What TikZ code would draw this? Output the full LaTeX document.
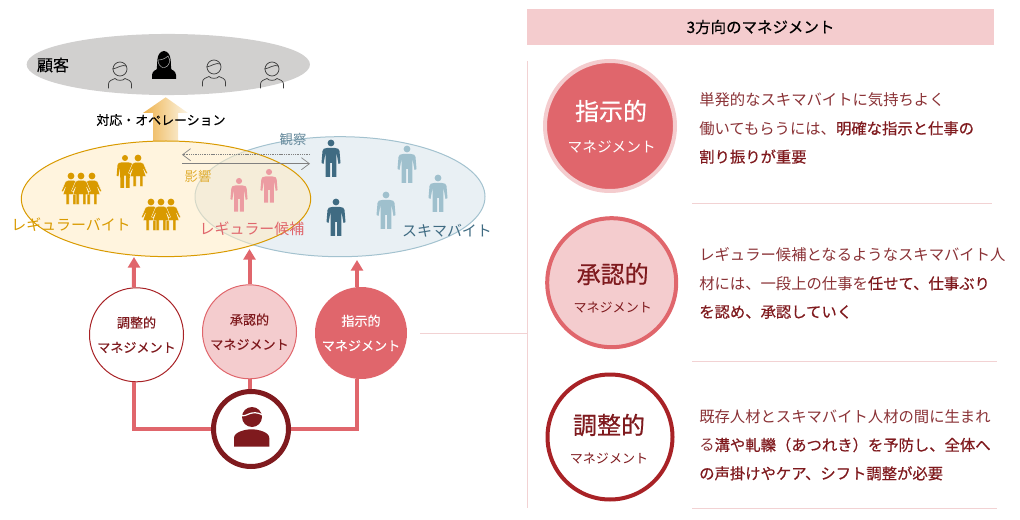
\documentclass[tikz,border=0pt]{standalone}
\usepackage{fontspec}
\setmainfont{Noto Sans CJK JP}
\newfontfamily\midweight[FakeBold=0.25]{Noto Sans CJK JP}
\newfontfamily\strongweight[FakeBold=0.5]{Noto Sans CJK JP}
\usetikzlibrary{arrows.meta,shapes.geometric}
\definecolor{palepink}{HTML}{F4CCCE}
\definecolor{rosered}{HTML}{E0666C}
\definecolor{winered}{HTML}{A82226}
\definecolor{deepred}{HTML}{7F1A1E}
\definecolor{bodyred}{HTML}{8A3236}
\definecolor{goldline}{HTML}{D99A00}
\definecolor{goldfill}{HTML}{FFEBC3}
\definecolor{goldpale}{HTML}{FFF4DE}
\definecolor{blueline}{HTML}{A3C2CF}
\definecolor{bluefill}{HTML}{E9F0F4}
\definecolor{darkblue}{HTML}{3F6B82}
\definecolor{lightblue}{HTML}{9FC0CD}
\definecolor{softpink}{HTML}{EC9CA2}
\definecolor{rulepink}{HTML}{F2D2D3}
\definecolor{crowdgray}{HTML}{D1D0CF}
\newcommand{\keytext}[1]{\textcolor{deepred}{\strongweight #1}}
\begin{document}
\begin{tikzpicture}
[x=0.75pt,y=-0.75pt,
 linkline/.style={draw=rosered,line width=3pt},
 linkarrow/.style={linkline,-{Triangle[length=8pt,width=9pt]}},
 thinrule/.style={draw=rulepink,line width=0.75pt},
 lookarrow/.style={draw=gray,line width=0.5pt,-{Straight Barb[length=6pt,width=9pt]}},
 smallway/.style={circle,minimum size=70.5pt,inner sep=0pt,align=center,font=\fontsize{9.8}{18.6}\selectfont\midweight},
 bigway/.style={circle,inner sep=0pt,line width=3pt},
 waytitle/.style={inner sep=0pt,font=\fontsize{18}{22}\selectfont\strongweight},
 waytext/.style={anchor=west,align=left,inner sep=0pt,text=bodyred,font=\fontsize{11.5}{21.3}\selectfont},
 grouptext/.style={inner sep=0pt,font=\fontsize{11.2}{14}\selectfont},
 pics/manfig/.style={code={
   \fill[#1] (0,0) circle (3.4);
   \fill[#1] (-4,5) -- (4,5) .. controls (7,5) and (8,6) .. (8.5,8) -- (9.5,20) -- (7.5,21) -- (5.5,10)
     -- (5.3,34) -- (1,34) -- (1,20) -- (-1,20) -- (-1,34) -- (-5.3,34) -- (-5.5,10) -- (-7.5,21)
     -- (-9.5,20) -- (-8.5,8) .. controls (-8,6) and (-7,5) .. (-4,5) -- cycle;
 }},
 pics/womanfig/.style={code={
   \fill[#1] (0,0) circle (3.4);
   \filldraw[fill=#1,draw=goldpale,line width=0.3pt] (-3,4.5) -- (3,4.5) -- (5.5,5.5) -- (9.5,15) -- (8,16) -- (5.5,11) -- (8,18.5) -- (4.8,18.5)
     -- (4.8,28.5) -- (2,28.5) -- (2,18.5) -- (-2,18.5) -- (-2,28.5) -- (-4.8,28.5) -- (-4.8,18.5) -- (-8,18.5)
     -- (-5.5,11) -- (-8,16) -- (-9.5,15) -- (-5.5,5.5) -- cycle;
 }},
 pics/facefig/.style={code={
   \draw[line width=0.55pt,draw=black!75] (0,0) circle (7);
   \draw[line width=0.55pt,draw=black!75] (-7.5,0) .. controls (-3,-0.5) and (2,-5) .. (6.5,-3);
   \draw[line width=0.55pt,draw=black!75] (-11.5,19.5) -- (-11.5,15) .. controls (-11.5,12) and (-8,10.5) .. (-5,9.5)
     .. controls (-3,12) and (3,12) .. (5,9.5) .. controls (8,10.5) and (11.5,12) .. (11.5,15) -- (11.5,19.5);
 }}]
\useasboundingbox (0,0) rectangle (1020,520);

%% customers on top
\node[ellipse,fill=crowdgray,minimum width=212.5pt,minimum height=45.8pt,inner sep=0pt] (crowd) at (168.3,64.5) {};
\node[inner sep=0pt,font=\fontsize{12}{14}\selectfont\midweight] (crowdlabel) at (53,65) {顧客};
\foreach \x/\y in {120/69, 214/67, 272/69}
{
  \pic at (\x,\y) {facefig};
}
\fill[black] (156.5,70) .. controls (158,66) and (155,52) .. (164,51) .. controls (173,52) and (170,66) .. (171.5,70) -- cycle;
\draw[white!70!black,line width=0.4pt] (158,60) .. controls (161,60) and (165,59) .. (168,56) .. controls (171,60) and (170,66) .. (164,68) .. controls (160,67) and (158,64) .. (158,60);
\fill[black] (152,79) -- (152,75) .. controls (152,71) and (157,69) .. (160,68) -- (168,68) .. controls (171,69) and (176,71) .. (176,75) -- (176,79) -- cycle;

%% the two groups
\node[ellipse,draw=blueline,fill=bluefill,line width=0.75pt,minimum width=217.5pt,minimum height=90pt,inner sep=0pt] (casual) at (340,196.7) {};
\shade[left color=orange!35!goldline!70!white,right color=goldline!10!white] (153,141) -- (153,113) -- (143,113) -- (165.7,97.3) -- (188,113) -- (178,113) -- (178,141) -- cycle;
\node[ellipse,draw=goldline,fill=goldfill,fill opacity=0.55,line width=0.75pt,minimum width=217pt,minimum height=86.7pt,inner sep=0pt] (regular) at (166,198.8) {};
\node[inner sep=0pt,font=\fontsize{9.7}{12}\selectfont\midweight] (action) at (161,120) {対応・オペレーション};

\pic[scale=0.88] at (125,158) {manfig=goldline};
\foreach \x/\y in {138/158, 71/176, 92/176, 81/176, 151/202, 171/202, 161/202}
{
  \pic at (\x,\y) {womanfig=goldline};
}
\foreach \x/\y in {239/181, 269/172}
{
  \pic[scale=0.9] at (\x,\y) {manfig=softpink};
}
\foreach \x/\y in {331/143, 336/202}
{
  \pic at (\x,\y) {manfig=darkblue};
}
\foreach \x/\y in {407/149, 438/178, 386/195}
{
  \pic at (\x,\y) {manfig=lightblue};
}
\node[grouptext,text=goldline] (regularlabel) at (71,225) {レギュラーバイト};
\node[grouptext,text=rosered] (candidatelabel) at (252,229) {レギュラー候補};
\node[grouptext,text=darkblue] (casuallabel) at (447,231) {スキマバイト};

\coordinate (watchR) at (310,154.7);
\coordinate (watchL) at (182,154.7);
\coordinate (sendL) at (182,163.7);
\coordinate (sendR) at (310,163.7);
\draw[lookarrow,dash pattern=on 1pt off 0.7pt] (watchR) -- (watchL);
\draw[lookarrow] (sendL) -- (sendR);
\node[inner sep=0pt,text=darkblue!80!white,font=\fontsize{10}{12}\selectfont] (watchlabel) at (293,139) {観察};
\node[inner sep=0pt,text=goldline!80!white,font=\fontsize{10}{12}\selectfont] (effectlabel) at (198,176.7) {影響};

%% the three ways and the manager
\node[smallway,draw=winered,fill=white,line width=0.75pt,text=deepred] (adjustS) at (136.5,334.8) {調整的\\マネジメント};
\node[smallway,draw=rosered,fill=palepink,line width=0.75pt,text=deepred] (approveS) at (249.5,331.8) {承認的\\マネジメント};
\node[smallway,minimum size=69pt,fill=rosered,text=white] (directS) at (361,333) {指示的\\マネジメント};
\node[circle,draw=deepred,fill=white,line width=3.75pt,minimum size=56.25pt,inner sep=0pt] (boss) at (251,429) {};
\fill[deepred] (252,417) circle (10);
\draw[white,line width=0.9pt] (241,416) .. controls (247,417) and (251,409) .. (263,415);
\fill[deepred] (234,446.7) -- (234,438) .. controls (234,432) and (245,429.3) .. (251.5,429.3) .. controls (258,429.3) and (269.3,432) .. (269.3,438) -- (269.3,446.7) -- cycle;

\draw[linkline] (boss.west) -| ([xshift=-1.9pt]adjustS.south);
\draw[linkline] (approveS.south) -- (approveS.south |- boss.north);
\draw[linkline] (boss.east) -| ([xshift=-3pt]directS.south);
\coordinate (tipA) at (134,257);
\coordinate (tipB) at (249.5,249);
\coordinate (tipC) at (357,260);
\draw[linkarrow] ([xshift=-1.9pt]adjustS.north) -- (tipA);
\draw[linkarrow] (approveS.north) -- (tipB);
\draw[linkarrow] ([xshift=-3pt]directS.north) -- (tipC);

%% right side
\node[fill=palepink,minimum width=350.25pt,minimum height=27pt,inner sep=0pt,font=\fontsize{11.6}{14}\selectfont\strongweight] (title) at (760.5,27) {3方向のマネジメント};
\coordinate (frameT) at (527,61);
\coordinate (frameB) at (527,508);
\coordinate (frameM) at (527,333);
\coordinate (frameL) at (420,333);
\draw[thinrule] (frameT) -- (frameB);
\draw[thinrule] (frameL) -- (frameM);
\foreach \ystart/\xend in {204/992, 361.5/997, 508/997}
{
  \draw[thinrule] (692,\ystart) -- (\xend,\ystart);
}

\node[bigway,draw=palepink,fill=rosered,minimum size=97.5pt] (directB) at (610,126) {};
\node[bigway,draw=rosered,fill=palepink,minimum size=96.75pt] (approveB) at (611.7,282.7) {};
\node[bigway,draw=winered,fill=white,minimum size=93.75pt] (adjustB) at (610,437) {};
\node[waytitle,text=white] (directname) at (611,111) {指示的};
\node[waytitle,text=deepred] (approvename) at (612.7,274) {承認的};
\node[waytitle,text=deepred] (adjustname) at (609,425) {調整的};
\node[inner sep=0pt,text=white,font=\fontsize{11}{14}\selectfont] (directsub) at (611.7,146.7) {マネジメント};
\node[inner sep=0pt,text=deepred,font=\fontsize{9.8}{14}\selectfont] (approvesub) at (612.7,307.7) {マネジメント};
\node[inner sep=0pt,text=deepred,font=\fontsize{9.8}{14}\selectfont] (adjustsub) at (609,459) {マネジメント};

\node[waytext] (directT) at (699,128.3) {単発的なスキマバイトに気持ちよく\\働いてもらうには、\keytext{明確な指示と仕事の}\\\keytext{割り振りが重要}};
\node[waytext] (approveT) at (699,283.3) {レギュラー候補となるようなスキマバイト人\\材には、一段上の仕事を\keytext{任せて、仕事ぶり}\\\keytext{を認め、承認していく}};
\node[waytext] (adjustT) at (699,445) {既存人材とスキマバイト人材の間に生まれ\\る\keytext{溝や軋轢（あつれき）を予防し、全体へ}\\\keytext{の声掛けやケア、シフト調整が必要}};
\end{tikzpicture}
\end{document}
